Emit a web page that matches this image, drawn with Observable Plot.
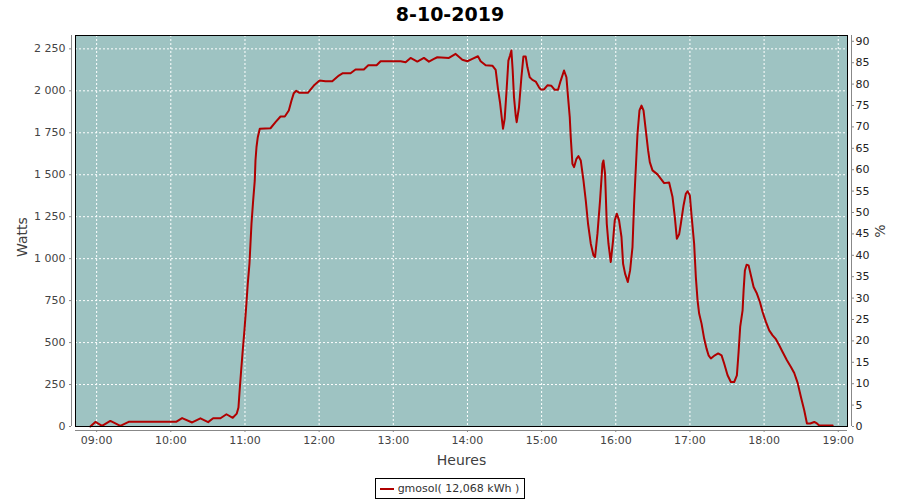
<!DOCTYPE html>
<html><head><meta charset="utf-8">
<script src="https://cdn.jsdelivr.net/npm/d3@7"></script>
<script src="https://cdn.jsdelivr.net/npm/@observablehq/plot@0.6"></script>
<style>
body{margin:0;background:#fff;font-family:"DejaVu Sans",sans-serif;width:900px;}
#title{height:28px;line-height:28px;text-align:center;font-weight:bold;font-size:19px;color:#000;}
#chart svg{display:block;}
#legend{display:flex;justify-content:center;margin-top:6px;}
#legend .box{border:1px solid #000;height:19px;padding:0 5px 0 4px;display:flex;align-items:center;font-size:11px;color:#333;}
#legend .swatch{width:14px;height:2px;background:#b00000;margin-right:4px;}
</style></head><body>
<div id="title">8-10-2019</div>
<div id="chart"></div>
<div id="legend"><div class="box"><span class="swatch"></span><span>gmosol( 12,068 kWh )</span></div></div>
<script>
// Time of each sample (HH:MM:SS) and power in watts
const times = ["08:54:54","08:58:57","09:04:22","09:11:05","09:19:11","09:25:55","10:04:17","10:09:09","10:17:15","10:23:58",
"10:30:12","10:34:15","10:40:10","10:45:01","10:50:07","10:53:22","10:54:44","10:55:33","10:56:55","10:58:13",
"10:59:35","11:00:58","11:02:16","11:03:38","11:04:27","11:05:16","11:06:38","11:07:56","11:08:30","11:09:19",
"11:10:22","11:11:59","11:20:39","11:24:42","11:28:45","11:32:14","11:35:28","11:37:39","11:39:31","11:41:28",
"11:44:08","11:50:51","11:55:43","12:00:20","12:05:11","12:10:37","12:15:57","12:19:11","12:25:26","12:29:28",
"12:36:12","12:39:46","12:46:29","12:49:43","13:05:55","13:09:58","13:13:59","13:19:26","13:24:47","13:28:50",
"13:32:53","13:35:38","13:45:01","13:50:27","13:55:52","13:59:55","14:03:58","14:08:30","14:10:41","14:14:44",
"14:20:10","14:22:50","14:24:42","14:26:19","14:27:41","14:28:45","14:30:07","14:31:44","14:33:07","14:34:25",
"14:35:33","14:36:36","14:37:39","14:39:02","14:39:50","14:41:42","14:43:39","14:45:16","14:47:08","14:48:31",
"14:50:22","14:52:34","14:55:14","14:57:54","14:59:17","15:01:57","15:04:42","15:07:56","15:10:37","15:13:17",
"15:15:28","15:18:08","15:20:05","15:21:23","15:22:46","15:23:34","15:24:56","15:26:14","15:28:11","15:29:48",
"15:31:40","15:33:51","15:35:43","15:37:34","15:39:46","15:41:57","15:43:14","15:45:11","15:47:17","15:49:14",
"15:50:02","15:51:20","15:52:43","15:54:05","15:55:57","15:57:49","15:59:11","16:00:49","16:02:40","16:04:37",
"16:05:55","16:07:32","16:09:43","16:11:35","16:13:31","16:14:49","16:17:34","16:19:11","16:20:49","16:22:26",
"16:24:18","16:26:10","16:27:32","16:29:43","16:33:46","16:39:07","16:43:10","16:45:55","16:47:47","16:49:24",
"16:51:16","16:52:38","16:54:50","16:56:41","16:58:04","16:59:56","17:01:18","17:03:24","17:04:47","17:06:10",
"17:07:27","17:09:24","17:11:30","17:13:26","17:15:04","17:16:56","17:20:10","17:22:50","17:25:35","17:27:42",
"17:30:27","17:33:07","17:35:47","17:37:59","17:39:22","17:40:39","17:42:36","17:43:25","17:44:28","17:45:50",
"17:47:28","17:49:19","17:51:31","17:54:11","17:56:37","17:58:47","18:01:28","18:04:08","18:06:53","18:09:34",
"18:12:14","18:14:59","18:18:28","18:21:43","18:24:23","18:27:08","18:29:48","18:32:28","18:34:40","18:37:20",
"18:40:34","18:42:46","18:44:37","18:55:28"];
const watts = [0,27,4,33,4,28,28,50,24,49,
26,49,49,73,52,77,113,200,335,455,
574,712,851,970,1089,1208,1347,1466,1585,1664,
1724,1774,1777,1813,1847,1847,1883,1942,1986,2000,
1988,1988,2031,2061,2057,2057,2091,2105,2105,2127,
2127,2152,2152,2176,2176,2170,2196,2174,2196,2174,
2190,2200,2196,2220,2185,2176,2190,2206,2176,2152,
2150,2125,2012,1932,1843,1774,1833,2012,2180,2210,
2240,2121,1962,1853,1813,1902,2081,2204,2204,2140,
2081,2065,2055,2021,2008,2008,2033,2030,2006,2006,
2061,2121,2081,1962,1843,1724,1565,1545,1595,1611,
1585,1466,1347,1208,1089,1020,1010,1149,1347,1565,
1585,1506,1208,1089,980,1109,1228,1268,1228,1129,
970,911,861,930,1069,1327,1744,1883,1912,1883,
1764,1645,1575,1526,1502,1450,1454,1367,1248,1119,
1145,1208,1317,1387,1402,1377,1258,1089,890,752,
673,613,524,464,424,405,424,435,424,375,
305,265,265,305,444,593,692,811,930,964,
960,901,831,792,742,682,623,573,543,520,
484,444,395,355,319,260,176,97,18,18,
27,18,6,6];

const xTickLabels = ["09:00","10:00","11:00","12:00","13:00","14:00","15:00","16:00","17:00","18:00","19:00"];
const yTicks = [0,250,500,750,1000,1250,1500,1750,2000,2250];
const pctTicks = [0,5,10,15,20,25,30,35,40,45,50,55,60,65,70,75,80,85,90];
const peakWatts = 2550; // 100 % on the right axis

const bg = "#9ec3c2";
const lineColor = "#b00000";

const parseT = s => { const [h,m,sec] = s.split(":").map(Number); return new Date(Date.UTC(2019,9,8,h,m,sec||0)); };
const data = times.map((s,i) => ({t: parseT(s), w: watts[i]}));
const t0 = +data[0].t, t1 = +data[data.length-1].t;
const pad = (t1 - t0) * 0.02;
const xDomain = [new Date(t0 - pad), new Date(t1 + pad)];
const yMax = d3.max(watts) * 1.04;
const xTicks = xTickLabels.map(parseT);
const fmtW = d3.formatLocale({decimal:",", thousands:" ", grouping:[3], currency:["",""]}).format(",d");
const pctFactor = peakWatts / 100;
const pctTicksW = pctTicks.map(p => p * pctFactor);
const gridStyle = {stroke:"white", strokeOpacity:1, strokeWidth:1, strokeDasharray:"2,2"};
const labelStyle = {text: d => d, fontSize: 14, fill: "#404040", textAnchor: "middle", lineAnchor: "middle"};

const chart = Plot.plot({
  width: 900, height: 444,
  marginTop: 7, marginBottom: 46, marginLeft: 75, marginRight: 53,
  style: {fontFamily: "DejaVu Sans", fontSize: "11px", background: "white", overflow: "visible"},
  x: {type: "utc", domain: xDomain},
  y: {domain: [0, yMax]},
  marks: [
    Plot.frame({fill: bg, stroke: "none"}),
    Plot.gridX(xTicks, gridStyle),
    Plot.gridY(yTicks, gridStyle),
    Plot.line(data, {x: "t", y: "w", stroke: lineColor, strokeWidth: 2}),
    Plot.frame({stroke: "black", strokeWidth: 1}),
    Plot.ruleX([xDomain[0]], {dx: -4, stroke: "#888"}),
    Plot.ruleX([xDomain[1]], {dx: 4, stroke: "#888"}),
    Plot.ruleY([0], {dy: 4, stroke: "#888"}),
    Plot.axisX(xTicks, {anchor: "bottom", dy: 4, tickSize: 2, tickPadding: 4, tickFormat: d3.utcFormat("%H:%M"), label: null, stroke: "#888", fill: "#444"}),
    Plot.axisY(yTicks, {anchor: "left", dx: -4, tickSize: 2, tickPadding: 4, tickFormat: fmtW, label: null, stroke: "#888", fill: "#444"}),
    Plot.axisY(pctTicksW, {anchor: "right", dx: 4, tickSize: 2, tickPadding: 2, tickFormat: d => String(Math.round(d / pctFactor)), label: null, stroke: "#888", fill: "#222"}),
    Plot.text(["Heures"], {...labelStyle, frameAnchor: "bottom", dy: 34}),
    Plot.text(["Watts"], {...labelStyle, frameAnchor: "left", dx: -53, dy: 6, rotate: -90}),
    Plot.text(["%"], {...labelStyle, frameAnchor: "right", dx: 33, rotate: -90})
  ]
});
document.getElementById("chart").appendChild(chart);
</script>
</body></html>
